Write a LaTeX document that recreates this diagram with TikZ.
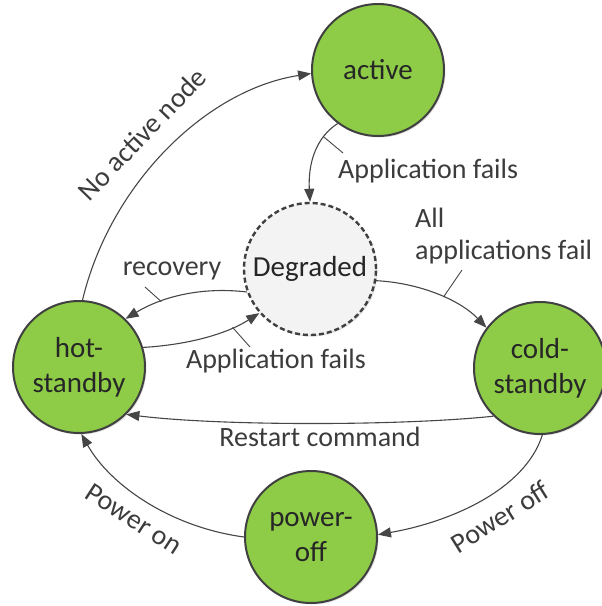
\documentclass[tikz,border=0pt]{standalone}
\usepackage{fontspec}
\setmainfont{Carlito}
\usetikzlibrary{arrows.meta,shadows}

\definecolor{stategreen}{RGB}{142,204,72}
\definecolor{stateedge}{RGB}{64,64,64}
\definecolor{degradedfill}{RGB}{243,243,243}
\definecolor{wire}{RGB}{70,70,70}
\definecolor{ink}{RGB}{38,38,38}

\tikzset{
  state/.style={circle, minimum size=132pt, inner sep=0pt, align=center,
    fill=stategreen, draw=stateedge, line width=2pt, text=ink,
    font=\fontsize{29}{35}\selectfont,
    drop shadow={shadow xshift=1.5pt, shadow yshift=-1.5pt, opacity=0.25}},
  degradedstate/.style={state, fill=degradedfill, dashed,
    dash pattern=on 5pt off 3pt, line width=2.4pt},
  transition/.style={draw=wire, line width=1.1pt,
    -{Triangle[length=13pt,width=10pt]}},
  leader/.style={draw=wire, line width=0.9pt},
  edgelabel/.style={text=ink!90!white, inner sep=0pt,
    font=\fontsize{28}{32}\selectfont}
}

\begin{document}
\begin{tikzpicture}[x=1pt,y=-1pt]
  \useasboundingbox (0,0) rectangle (602,606);

  % states
  \node[state] (active) at (378,70) {active};
  \node[degradedstate] (degraded) at (310,269) {Degraded};
  \node[state] (hot) at (79,367) {hot-\\standby};
  \node[state] (cold) at (540,368) {cold-\\standby};
  \node[state] (poweroff) at (311,537) {power-\\off};

  % transitions
  \draw[transition] (hot.87) .. controls (110,185) and (205,90) .. (active.183);
  \draw[transition] (active.233) .. controls (315,138) and (308,165) ..
    coordinate[pos=0.25] (afA) (degraded.90);
  \draw[transition] (degraded.-10) .. controls (420,283) and (460,300) ..
    coordinate[pos=0.55] (afB) (cold.143);
  \draw[transition] (degraded.200) .. controls (205,287) and (165,295) ..
    coordinate[pos=0.7] (recA) (hot.46);
  \draw[transition] (hot.17) .. controls (185,345) and (225,335) ..
    coordinate[pos=0.75] (afC) (degraded.221.5);
  \draw[transition] (cold.226) .. controls (400,426) and (220,426) .. (hot.315);
  \draw[transition] (cold.272) .. controls (525,490) and (450,522) .. (poweroff.2);
  \draw[transition] (poweroff.180) .. controls (170,527) and (110,485) .. (hot.272);

  % labels
  \node[edgelabel, rotate=46] (lNoActive) at (142,134) {No active node};
  \node[edgelabel, anchor=west] (lFailA) at (338,171) {Application fails};
  \node[edgelabel, anchor=west, align=left] (lFailAll) at (415,236)
    {All\\applications fail};
  \node[edgelabel] (lRecovery) at (172,271) {recovery};
  \node[edgelabel] (lFailC) at (276,361) {Application fails};
  \node[edgelabel] (lRestart) at (320,437) {Restart command};
  \node[edgelabel, rotate=32] (lPowerOff) at (500,517) {Power off};
  \node[edgelabel, rotate=-33] (lPowerOn) at (134,519) {Power on};

  % leader lines from labels to their transitions
  \coordinate (tA) at (343,153);
  \coordinate (tB) at (462,270);
  \coordinate (tR) at (145,287);
  \coordinate (tC) at (250,347);
  \draw[leader] (afA) -- (tA);
  \draw[leader] (afB) -- (tB);
  \draw[leader] (recA) -- (tR);
  \draw[leader] (afC) -- (tC);
\end{tikzpicture}
\end{document}
